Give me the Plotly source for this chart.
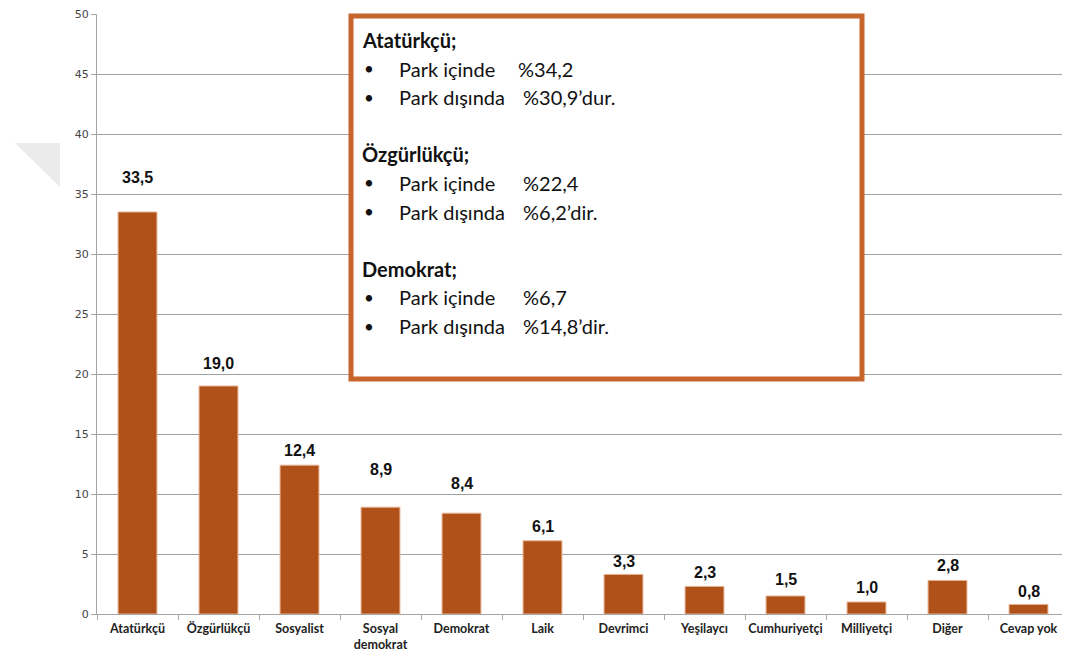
import plotly.graph_objects as go

categories = ["Atatürkçü", "Özgürlükçü", "Sosyalist", "Sosyal<br>demokrat", "Demokrat", "Laik",
              "Devrimci", "Yeşilaycı", "Cumhuriyetçi", "Milliyetçi", "Diğer", "Cevap yok"]
values = [33.5, 19.0, 12.4, 8.9, 8.4, 6.1, 3.3, 2.3, 1.5, 1.0, 2.8, 0.8]
label_shift = [35, 23, 15, 38, 30, 14, 13, 14, 17, 15, 15, 13]
y_ticks = [0, 5, 10, 15, 20, 25, 30, 35, 40, 45, 50]

box_lines = [
    ("Atatürkçü;", None, None),
    ("•", "Park içinde", "%34,2"),
    ("•", "Park dışında", "%30,9’dur."),
    (None, None, None),
    ("Özgürlükçü;", None, None),
    ("•", "Park içinde", "%22,4"),
    ("•", "Park dışında", "%6,2’dir."),
    (None, None, None),
    ("Demokrat;", None, None),
    ("•", "Park içinde", "%6,7"),
    ("•", "Park dışında", "%14,8’dir."),
]

OFF = 8  # page offset of the figure inside the browser window
W, H = 1070 - 2 * OFF, 661 - 2 * OFF
L, R, T, B = 97 - OFF, 0, 14 - OFF, H - (614 - OFF)
PW, PH = W - L - R, H - T - B


def px(x):
    return (x - OFF - L) / PW


def py(y):
    return (H - B - (y - OFF)) / PH


x_end = -0.5 + PW / 81.0

bar_color = "#B0511A"
fig = go.Figure()
fig.add_trace(go.Bar(
    x=categories, y=values, width=0.48,
    marker=dict(color=bar_color, line=dict(color="#E7B394", width=1)),
    hoverinfo="x+y",
))

annotations = []
for c, v, s in zip(categories, values, label_shift):
    annotations.append(dict(
        x=c, y=v, xref="x", yref="y", text=f"{v:.1f}".replace(".", ","),
        showarrow=False, yanchor="middle", yshift=s,
        font=dict(family="Liberation Sans", size=16, color="#111111", weight="bold"),
    ))

# text box contents
line_y0, line_dy = 40, 28.6
for i, (a, b, c) in enumerate(box_lines):
    yy = line_y0 + i * line_dy
    if a is None:
        continue
    if b is None:
        annotations.append(dict(x=px(360), y=py(yy), xref="paper", yref="paper", text=f"<b>{a}</b>",
                                showarrow=False, xanchor="left", yanchor="middle",
                                font=dict(family="Lato", size=20, color="#111111")))
    else:
        annotations.append(dict(x=px(362), y=py(yy), xref="paper", yref="paper", text=a,
                                showarrow=False, xanchor="left", yanchor="middle",
                                font=dict(family="Lato", size=17, color="#111111")))
        annotations.append(dict(x=px(397), y=py(yy), xref="paper", yref="paper", text=b,
                                showarrow=False, xanchor="left", yanchor="middle",
                                font=dict(family="Lato", size=20, color="#111111")))
        xv = 516 if c == "%34,2" else 521
        annotations.append(dict(x=px(xv), y=py(yy), xref="paper", yref="paper", text=c,
                                showarrow=False, xanchor="left", yanchor="middle",
                                font=dict(family="Lato", size=20, color="#111111")))

shapes = [
    dict(type="rect", xref="paper", yref="paper", x0=px(351), x1=px(862), y0=py(16), y1=py(379),
         line=dict(color="#C8652D", width=5), fillcolor="white", layer="above"),
    dict(type="path", xref="paper", yref="paper",
         path=f"M {px(15)} {py(143)} L {px(60)} {py(143)} L {px(60)} {py(187)} Z",
         fillcolor="#EBEBEB", line=dict(width=0), layer="below"),
]

fig.update_layout(
    width=W, height=H,
    margin=dict(l=L, r=R, t=T, b=B),
    paper_bgcolor="white", plot_bgcolor="white",
    showlegend=False, bargap=0.52,
    annotations=annotations, shapes=shapes,
    xaxis=dict(range=[-0.5, x_end], showline=True, linecolor="#A6A6A6", linewidth=1,
               ticks="outside", tickson="boundaries", ticklen=5, tickcolor="#A6A6A6",
               tickangle=0, automargin=False, ticklabelstandoff=3,
               tickfont=dict(family="Lato", size=12.5, color="#222222", weight="bold"),
               showgrid=False, fixedrange=True),
    yaxis=dict(range=[0, 50], tickvals=y_ticks, showline=True, linecolor="#A6A6A6", linewidth=1,
               ticks="outside", ticklen=5, tickcolor="#A6A6A6", ticklabeloverflow="allow",
               automargin=False,
               tickfont=dict(family="DejaVu Sans", size=11, color="#444444"),
               showgrid=True, gridcolor="#A0A0A0", gridwidth=1, zeroline=False),
)

fig.write_html("out.html")
